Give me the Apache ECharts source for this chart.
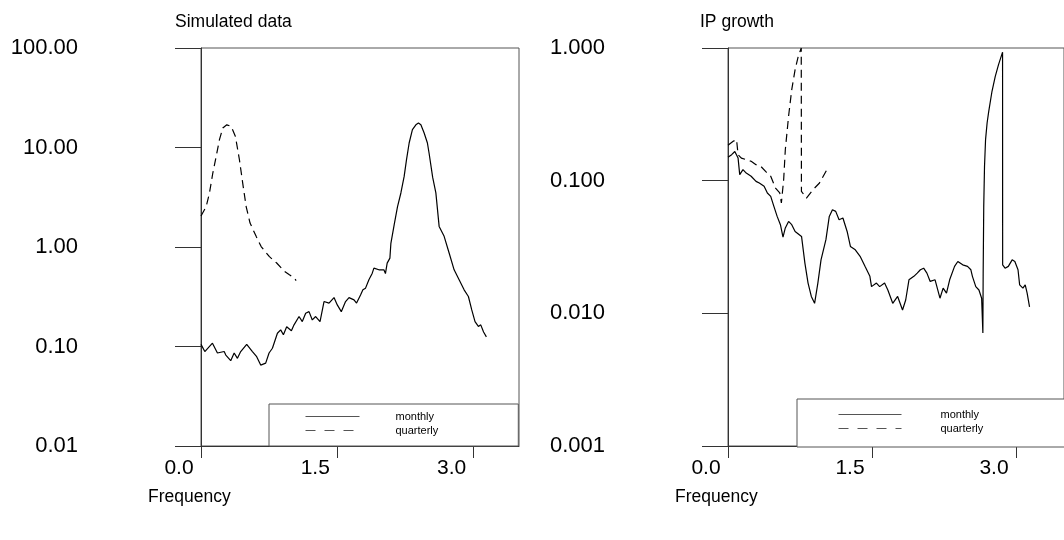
<!DOCTYPE html>
<html><head><meta charset="utf-8">
<script src="https://cdn.jsdelivr.net/npm/echarts@6/dist/echarts.min.js"></script>
<style>html,body{margin:0;padding:0;background:#fff}#c{width:1064px;height:540px}</style>
</head><body><div id="c"></div>
<script>
// ---- data ----
const panelTitles = ['Simulated data', 'IP growth'];
const xAxisName = 'Frequency';
const seriesNames = ['monthly', 'quarterly'];
const xTicks = [0, 1.5, 3.0];

const simMonthlyFreq = [0.000,0.016,0.042,0.126,0.181,0.255,0.273,0.327,0.365,0.401,0.437,0.503,0.566,0.613,0.657,0.712,0.749,0.786,0.841,0.877,0.907,0.943,0.995,1.024,1.079,1.115,1.152,1.189,1.225,1.262,1.310,1.354,1.409,1.464,1.500,1.544,1.591,1.629,1.684,1.712,1.756,1.782,1.811,1.848,1.885,1.903,1.958,2.013,2.030,2.049,2.079,2.090,2.126,2.163,2.200,2.236,2.262,2.291,2.327,2.365,2.393,2.420,2.456,2.492,2.510,2.550,2.585,2.621,2.676,2.731,2.786,2.841,2.896,2.943,2.980,3.016,3.053,3.079,3.110,3.141];
const simMonthlyVal  = [0.105,0.105,0.089,0.108,0.086,0.089,0.082,0.072,0.086,0.076,0.089,0.105,0.089,0.079,0.065,0.068,0.086,0.096,0.136,0.147,0.131,0.158,0.144,0.165,0.200,0.178,0.216,0.224,0.185,0.200,0.178,0.283,0.273,0.310,0.262,0.224,0.283,0.310,0.294,0.273,0.330,0.371,0.386,0.468,0.546,0.613,0.590,0.590,0.540,0.689,0.773,1.09,1.67,2.55,3.49,5.12,7.54,11.1,15.1,16.9,17.6,16.9,14.0,11.1,8.8,5.0,3.5,1.61,1.28,0.87,0.59,0.468,0.371,0.318,0.233,0.178,0.159,0.165,0.140,0.125];

const simQuarterlyFreq = [0.000,0.010,0.057,0.093,0.130,0.167,0.203,0.240,0.284,0.332,0.379,0.423,0.459,0.497,0.540,0.607,0.662,0.753,0.833,0.918,0.973,1.027,1.047];
const simQuarterlyVal  = [2.05,2.11,2.55,3.48,5.54,8.14,11.98,15.7,16.9,16.3,12.9,7.53,4.39,2.55,1.74,1.28,1.01,0.80,0.69,0.57,0.525,0.486,0.46];

const ipMonthlyFreq = [0.000,0.003,0.038,0.071,0.105,0.122,0.156,0.190,0.241,0.292,0.326,0.376,0.410,0.445,0.478,0.512,0.546,0.573,0.597,0.631,0.664,0.699,0.766,0.801,0.834,0.868,0.902,0.936,0.969,1.020,1.055,1.088,1.122,1.157,1.197,1.241,1.275,1.326,1.376,1.427,1.478,1.495,1.546,1.580,1.631,1.665,1.716,1.767,1.818,1.851,1.885,1.936,1.971,2.004,2.038,2.072,2.106,2.157,2.208,2.241,2.276,2.309,2.360,2.394,2.445,2.495,2.530,2.546,2.581,2.614,2.642,2.655,2.658,2.664,2.672,2.683,2.699,2.716,2.750,2.784,2.818,2.860,2.861,2.886,2.920,2.960,2.988,3.021,3.038,3.072,3.096,3.116,3.141];
const ipMonthlyVal  = [0.150,0.152,0.157,0.166,0.148,0.111,0.121,0.114,0.108,0.0988,0.096,0.0906,0.0807,0.0762,0.064,0.0538,0.0466,0.0376,0.044,0.0493,0.0466,0.0414,0.038,0.0239,0.0169,0.0134,0.0119,0.0169,0.0253,0.0359,0.0538,0.0604,0.0587,0.0508,0.0523,0.0414,0.0319,0.0301,0.0269,0.0226,0.0190,0.0159,0.0169,0.0159,0.0169,0.0150,0.0119,0.0134,0.0106,0.0126,0.0179,0.0190,0.0201,0.0213,0.0219,0.0201,0.0174,0.0179,0.0130,0.0155,0.0142,0.0179,0.0226,0.0246,0.0232,0.0226,0.0213,0.0190,0.0159,0.0150,0.0130,0.0071,0.0201,0.064,0.128,0.204,0.272,0.333,0.472,0.612,0.750,0.930,0.0232,0.0219,0.0226,0.0253,0.0246,0.0213,0.0164,0.0155,0.0164,0.0142,0.0112];

const ipQuarterlyFreq = [0.000,0.003,0.054,0.089,0.105,0.139,0.190,0.241,0.292,0.343,0.394,0.445,0.495,0.539,0.556,0.580,0.597,0.631,0.664,0.699,0.732,0.763,0.765,0.817,0.885,0.953,1.030,1.047];
const ipQuarterlyVal  = [0.185,0.187,0.198,0.204,0.157,0.148,0.144,0.140,0.132,0.128,0.117,0.108,0.088,0.081,0.068,0.102,0.171,0.306,0.486,0.688,0.867,1.0,0.083,0.074,0.0855,0.096,0.121,0.125];

// ---- build ----
const zip = (xs, ys) => xs.map((x, i) => [x, ys[i]]);
const AX = '#333', FR = '#555';
const FONT = 'Liberation Sans, Arial, sans-serif';

function xAxisOf(gi) {
  return {
    type: 'value', gridIndex: gi, min: 0, max: 3.5,
    axisLine: { show: true, onZero: false, lineStyle: { color: AX, width: 1 } },
    axisTick: { show: true, inside: false, length: 12, customValues: xTicks, lineStyle: { color: AX } },
    axisLabel: { customValues: xTicks, fontFamily: FONT, fontSize: 21, color: '#000', margin: 11, lineHeight: 22,
      padding: [0, 44, 0, 0], formatter: v => Number(v).toFixed(1) },
    splitLine: { show: false }
  };
}
function yAxisOf(gi, mn, mx, dec) {
  return {
    type: 'log', logBase: 10, gridIndex: gi, min: mn, max: mx,
    axisLine: { show: true, lineStyle: { color: AX, width: 1 } },
    axisTick: { show: true, inside: false, length: 26, lineStyle: { color: AX } },
    axisLabel: { fontFamily: FONT, fontSize: 22, color: '#000', margin: 123, verticalAlign: 'middle',
      formatter: v => Number(v).toFixed(dec) },
    splitLine: { show: false }
  };
}
function lineSeries(name, data, gi, dashed) {
  return {
    name, type: 'line', data, xAxisIndex: gi, yAxisIndex: gi,
    symbol: 'none', showSymbol: false, clip: true, animation: false,
    lineStyle: { color: '#000', width: 1.2, type: dashed ? [8, 5] : 'solid' },
    itemStyle: { color: '#000' }
  };
}
function legendOf(left, top, pad, iw, tpad) {
  return {
    orient: 'vertical', left, top, padding: pad, itemWidth: iw, itemHeight: 12, itemGap: 3,
    borderColor: FR, borderWidth: 1, backgroundColor: '#fff', selectedMode: false,
    data: [
      { name: seriesNames[0], lineStyle: { type: 'solid' } },
      { name: seriesNames[1], lineStyle: { type: [10, 9] } }
    ],
    itemStyle: { opacity: 0, borderWidth: 0 },
    lineStyle: { width: 1, color: '#555' },
    textStyle: { fontFamily: FONT, fontSize: 11, color: '#000', padding: [0, 0, 0, tpad] }
  };
}
const txt = (text, x, y, size) => ({ type: 'text', x, y, style: { text, fontFamily: FONT, fontSize: size, fill: '#000', align: 'left', verticalAlign: 'middle' } });

const option = {
  backgroundColor: '#fff',
  animation: false,
  grid: [
    { left: 201, top: 48, width: 318, height: 398, show: true, borderColor: FR, borderWidth: 1, backgroundColor: 'transparent' },
    { left: 728, top: 48, width: 344, height: 398, show: true, borderColor: FR, borderWidth: 1, backgroundColor: 'transparent' }
  ],
  xAxis: [xAxisOf(0), xAxisOf(1)],
  yAxis: [yAxisOf(0, 0.01, 100, 2), yAxisOf(1, 0.001, 1, 3)],
  legend: [
    legendOf(269, 404, [7, 80, 10, 36], 54, 31),
    legendOf(797, 399, [10, 160, 13, 41], 63, 34)
  ],
  series: [
    lineSeries(seriesNames[0], zip(simMonthlyFreq, simMonthlyVal), 0, false),
    lineSeries(seriesNames[1], zip(simQuarterlyFreq, simQuarterlyVal), 0, true),
    lineSeries(seriesNames[0], zip(ipMonthlyFreq, ipMonthlyVal), 1, false),
    lineSeries(seriesNames[1], zip(ipQuarterlyFreq, ipQuarterlyVal), 1, true)
  ],
  graphic: [
    txt(panelTitles[0], 175, 22, 17.5),
    txt(panelTitles[1], 700, 22, 17.5),
    txt(xAxisName, 148, 497, 17.5),
    txt(xAxisName, 675, 497, 17.5)
  ]
};
const chart = echarts.init(document.getElementById('c'), null, { renderer: 'canvas' });
chart.setOption(option);
</script></body></html>
